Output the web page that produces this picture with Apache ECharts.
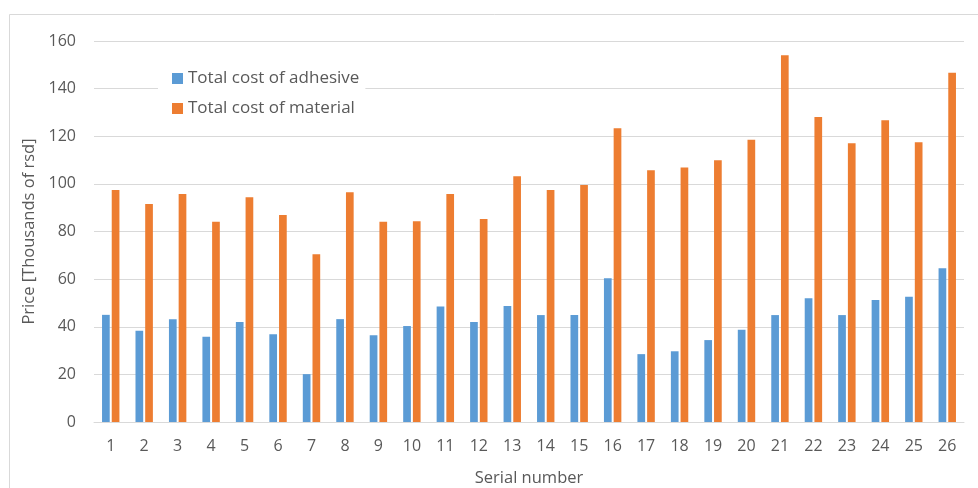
<!DOCTYPE html>
<html>
<head>
<meta charset="utf-8">
<script src="https://cdn.jsdelivr.net/npm/echarts@6/dist/echarts.min.js"></script>
<style>
  html, body { margin: 0; padding: 0; background: #ffffff; }
  #chart { width: 978px; height: 488px; }
</style>
</head>
<body>
<div id="chart"></div>
<script>
// Serial numbers of the 26 items
const categories = ['1','2','3','4','5','6','7','8','9','10','11','12','13','14','15','16','17','18','19','20','21','22','23','24','25','26'];

// Total cost of adhesive, thousands of rsd
const adhesiveCost = [45.0, 38.3, 43.2, 35.8, 42.0, 36.8, 20.1, 43.2, 36.4, 40.3, 48.5, 42.0, 48.7,
                      44.9, 44.9, 60.4, 28.5, 29.7, 34.4, 38.7, 44.9, 52.0, 44.9, 51.2, 52.6, 64.6];

// Total cost of material, thousands of rsd
const materialCost = [97.4, 91.5, 95.7, 84.1, 94.4, 86.9, 70.4, 96.5, 84.1, 84.3, 95.7, 85.2, 103.2,
                      97.4, 99.5, 123.4, 105.7, 106.9, 109.9, 118.5, 154.0, 128.1, 117.1, 126.7, 117.5, 146.7];

const seriesNames = ['Total cost of adhesive', 'Total cost of material'];
const yTicks = { min: 0, max: 160, interval: 20 };

const FONT = '"Open Sans", sans-serif';
const TEXT = '#595959';
const GRID = '#D9D9D9';

const chart = echarts.init(document.getElementById('chart'), null, { renderer: 'canvas' });

chart.setOption({
  animation: false,
  backgroundColor: '#ffffff',
  textStyle: { fontFamily: FONT },
  graphic: [{
    type: 'rect',
    silent: true,
    z: -10,
    shape: { x: 9.5, y: 14.5, width: 1000, height: 500 },
    style: { fill: 'none', stroke: GRID, lineWidth: 1 }
  }],
  legend: {
    orient: 'vertical',
    left: 158,
    top: 62,
    padding: [8, 6, 8, 14],
    backgroundColor: '#ffffff',
    itemWidth: 11,
    itemHeight: 11,
    itemGap: 13,
    icon: 'rect',
    textStyle: { color: TEXT, fontSize: 17, fontFamily: FONT },
    data: seriesNames,
    z: 5
  },
  grid: { left: 94, right: 14, top: 41, bottom: 66, containLabel: false, outerBoundsMode: 'none' },
  xAxis: {
    type: 'category',
    data: categories,
    name: 'Serial number',
    nameLocation: 'middle',
    nameGap: 48,
    nameTextStyle: { color: TEXT, fontSize: 16.5, fontFamily: FONT },
    axisLine: { lineStyle: { color: GRID, width: 1 } },
    axisTick: { show: false },
    axisLabel: { color: TEXT, fontSize: 16, margin: 16, fontFamily: FONT }
  },
  yAxis: {
    type: 'value',
    min: yTicks.min,
    max: yTicks.max,
    interval: yTicks.interval,
    name: 'Price [Thousands of rsd]',
    nameLocation: 'middle',
    nameGap: 56,
    nameTextStyle: { color: TEXT, fontSize: 16.5, fontFamily: FONT },
    axisLine: { show: false },
    axisTick: { show: false },
    axisLabel: { color: TEXT, fontSize: 16, margin: 18, fontFamily: FONT },
    splitLine: { lineStyle: { color: GRID, width: 1 } }
  },
  series: [
    {
      name: seriesNames[0],
      type: 'bar',
      data: adhesiveCost,
      barWidth: 7.7,
      barGap: '26%',
      itemStyle: { color: '#5B9BD5' }
    },
    {
      name: seriesNames[1],
      type: 'bar',
      data: materialCost,
      barWidth: 7.7,
      barGap: '26%',
      itemStyle: { color: '#ED7D31' }
    }
  ]
});
</script>
</body>
</html>
